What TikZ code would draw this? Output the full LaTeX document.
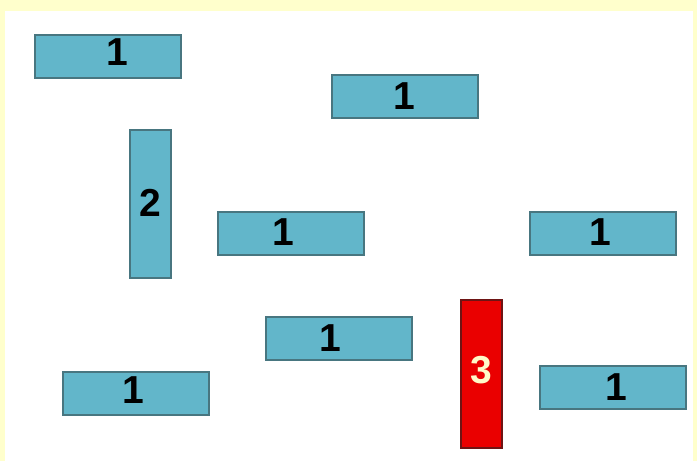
\documentclass[tikz,border=0pt]{standalone}
\usepackage{fontspec}
\setmainfont{Liberation Sans}
\usetikzlibrary{positioning}
\definecolor{frameYellow}{RGB}{255,255,204}
\definecolor{barTeal}{RGB}{98,182,202}
\definecolor{barEdge}{RGB}{72,118,128}
\definecolor{barRed}{RGB}{234,0,0}
\definecolor{barRedEdge}{RGB}{110,20,20}
\definecolor{numCream}{RGB}{255,250,200}

\begin{document}
\begin{tikzpicture}[x=1pt,y=-1pt,
  hbar/.style={draw=barEdge,line width=2pt,fill=barTeal,minimum width=146pt,minimum height=43pt,inner sep=0pt},
  vbar/.style={hbar,minimum width=41pt,minimum height=148pt},
  num/.style={inner sep=0pt,font=\fontsize{39}{39}\selectfont\bfseries}]
  \fill[frameYellow] (0,0) rectangle (697,461);
  \fill[white] (5,11) rectangle (693,461);
  \useasboundingbox (0,0) rectangle (697,461);
  % bars
  \node[hbar] (topleft) at (108,56.5) {};
  \node[hbar] (topmid) at (404.5,96) {};
  \node[vbar] (tall) at (150,204) {};
  \node[hbar] (midleft) at (291,233.5) {};
  \node[hbar] (midright) at (603,233.5) {};
  \node[hbar] (lowmid) at (338.5,338.5) {};
  \node[hbar] (botleft) at (136,393.5) {};
  \node[vbar,fill=barRed,draw=barRedEdge] (redbar) at (481.5,374) {};
  \node[hbar] (botright) at (612.5,387.5) {};
  % numbers
  \node[num] (topleftnum) at ([xshift=9pt,yshift=4.5pt]topleft.center) {1};
  \node[num] (topmidnum) at (topmid.center) {1};
  \node[num] (tallnum) at ([yshift=1pt]tall.center) {2};
  \node[num] (midleftnum) at ([xshift=-8pt,yshift=1pt]midleft.center) {1};
  \node[num] (midrightnum) at ([xshift=-3pt,yshift=1pt]midright.center) {1};
  \node[num] (lowmidnum) at ([xshift=-8pt]lowmid.center) {1};
  \node[num] (botleftnum) at ([xshift=-3pt,yshift=3pt]botleft.center) {1};
  \node[num,text=numCream] (rednum) at ([yshift=4pt]redbar.center) {3};
  \node[num] (botrightnum) at ([xshift=4pt]botright.center) {1};
\end{tikzpicture}
\end{document}
